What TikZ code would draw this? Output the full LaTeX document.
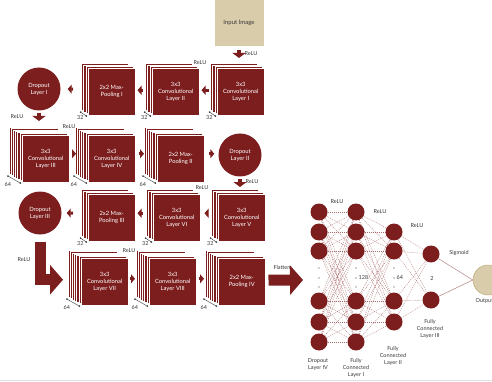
\documentclass[tikz,border=0pt]{standalone}
\usepackage{fontspec}
\setmainfont{Lato}
\usetikzlibrary{arrows.meta,backgrounds}
\definecolor{cnnred}{RGB}{125,30,30}
\definecolor{beigec}{RGB}{216,204,170}
\definecolor{beigeline}{RGB}{190,170,120}
\definecolor{labgray}{RGB}{55,55,55}
\newcommand\cnnstack[7]{%
  \foreach \i in {#4,...,1}{\filldraw[cnnlayer] ({#2-2.2*\i},{#3-#5*\i}) rectangle ++(47,47);}
  \node[frontsq, anchor=north west] (#1) at (#2,#3) {#6};
  \draw[dimln] ({#2-2.2*#4-1.5},{#3+47-#5*#4+1.5}) -- ({#2-1},{#3+48.5});
  \node[lbl, anchor=north] (#1-d) at ({#2-2.2*#4-1},{#3+47.8}) {#7};
}
\begin{document}
\begin{tikzpicture}[x=1pt,y=-1pt,
  cnnlayer/.style={fill=cnnred, draw=white, line width=.5pt},
  frontsq/.style={rectangle, fill=cnnred, draw=white, line width=.5pt, minimum width=47pt, minimum height=47pt, inner sep=0pt, align=center, text=white, font=\fontsize{5.8}{7}\selectfont},
  dropc/.style={circle, fill=cnnred, minimum size=43pt, inner sep=0pt, align=center, text=white, font=\fontsize{5.8}{7}\selectfont},
  lbl/.style={text=labgray, font=\fontsize{5.5}{7}\selectfont, inner sep=0pt, align=center},
  dimln/.style={black!80, line width=.4pt, {Circle[length=1.6pt]}-{Circle[length=1.6pt]}},
  sarr/.style={cnnred, line width=3pt, -{Triangle[length=4pt,width=9pt]}},
  darr/.style={cnnred, line width=4pt, -{Triangle[length=5pt,width=13pt]}},
  bigarr/.style={cnnred, line width=11pt, line join=miter, -{Triangle[length=13pt,width=29pt]}},
  neuron/.style={circle, fill=cnnred, minimum size=17pt, inner sep=0pt},
  conn/.style={cnnred!65, line width=.35pt, dash pattern=on 1pt off 1pt},
  outconn/.style={cnnred!60, line width=.45pt},
  ndot/.style={fill=labgray}
]
\useasboundingbox (0,0) rectangle (492,382);
\clip (0,0) rectangle (492,382);

% input
\node[fill=beigec, minimum width=49pt, minimum height=46pt, inner sep=0pt, text=labgray, font=\fontsize{6}{7}\selectfont] (input) at (239,23) {Input Image};

% row 1
\cnnstack{convI}{217}{68}{3}{1.6}{3x3\\Convolutional\\Layer I}{32}
\cnnstack{convII}{152}{68}{3}{1.6}{3x3\\Convolutional\\Layer II}{32}
\cnnstack{poolI}{88}{68}{3}{1.6}{2x2 Max-\\Pooling I}{32}
\node[dropc] (dropI) at (39,89) {Dropout\\Layer I};

% row 2
\cnnstack{convIII}{22}{135}{6}{1.3}{3x3\\Convolutional\\Layer III}{64}
\cnnstack{convIV}{88}{135}{6}{1.3}{3x3\\Convolutional\\Layer IV}{64}
\cnnstack{poolII}{157}{135}{6}{1.3}{2x2 Max-\\Pooling II}{64}
\node[dropc] (dropII) at (240,155) {Dropout\\Layer II};

% row 3
\cnnstack{convV}{218}{194}{3}{1.6}{3x3\\Convolutional\\Layer V}{32}
\cnnstack{convVI}{153}{194}{3}{1.6}{3x3\\Convolutional\\Layer VI}{32}
\cnnstack{poolIII}{88}{194}{3}{1.6}{2x2 Max-\\Pooling III}{32}
\node[dropc] (dropIII) at (40,213) {Dropout\\Layer III};

% row 4
\cnnstack{convVII}{81}{258}{6}{1.3}{3x3\\Convolutional\\Layer VII}{64}
\cnnstack{convVIII}{149}{258}{6}{1.3}{3x3\\Convolutional\\Layer VIII}{64}
\cnnstack{poolIV}{218}{258}{6}{1.3}{2x2 Max-\\Pooling IV}{64}

% arrows row 1
\draw[darr, shorten <=4pt, shorten >=10pt] (input.south) -- (input.south |- convI.north);
\draw[sarr, shorten <=8pt, shorten >=2pt] ([yshift=1.5pt]convI.west) -- ([yshift=1.5pt]convII.east);
\draw[sarr, shorten <=9pt, shorten >=2pt] ([yshift=1.5pt]convII.west) -- ([yshift=1.5pt]poolI.east);
\draw[sarr, shorten <=15pt, shorten >=7pt] ([yshift=2.5pt]poolI.west) -- (dropI.east);
\draw[darr, shorten <=2pt, shorten >=14pt] (dropI.south) -- (dropI.south |- convIII.north);
% row 2
\draw[sarr, shorten <=2pt, shorten >=12pt] ([yshift=5pt]convIII.east) -- ([yshift=5pt]convIV.west);
\draw[sarr, shorten <=3pt, shorten >=13pt] ([yshift=5pt]convIV.east) -- ([yshift=5pt]poolII.west);
\draw[sarr, shorten <=4pt, shorten >=4pt] ([yshift=5pt]poolII.east) -- ([yshift=5pt]poolII.east -| dropII.west);
\draw[darr, shorten <=2pt, shorten >=7pt] (dropII.south) -- (dropII.south |- convV.north);
% row 3
\draw[sarr, shorten <=11pt, shorten >=4pt] ([yshift=4.5pt]convV.west) -- ([yshift=4.5pt]convVI.east);
\draw[sarr, shorten <=10pt, shorten >=2pt] ([yshift=4.5pt]convVI.west) -- ([yshift=4.5pt]poolIII.east);
\draw[sarr, shorten <=15pt, shorten >=5pt] ([yshift=4.5pt]poolIII.west) -- (dropIII.east);
\draw[bigarr, shorten <=7pt, shorten >=18pt] (dropIII.south) |- ([yshift=2pt]convVII.west);
% row 4
\draw[sarr, shorten <=1pt, shorten >=14pt] ([yshift=3pt]convVII.east) -- ([yshift=3pt]convVIII.west);
\draw[sarr, shorten <=2pt, shorten >=14pt] ([yshift=3pt]convVIII.east) -- ([yshift=3pt]poolIV.west);
\coordinate (flatend) at (303,280);
\draw[bigarr, shorten <=3pt] ([yshift=1.5pt]poolIV.east) -- (flatend);

% CNN labels
\node[lbl] (r1) at (251,54) {ReLU};
\node[lbl] (r2) at (200,63) {ReLU};
\node[lbl] (r3) at (17,117) {ReLU};
\node[lbl] (r4) at (69,127) {ReLU};
\node[lbl] (r5) at (252,182) {ReLU};
\node[lbl] (r6) at (202,188) {ReLU};
\node[lbl] (r7) at (24,260) {ReLU};
\node[lbl] (r8) at (129,251) {ReLU};
\node[lbl] (flat) at (282,267) {Flatten};

% network nodes
\foreach \k/\y in {1/212,2/232,3/251,4/301,5/322,6/342}{
  \node[neuron] (n1\k) at (319,\y) {};
  \node[neuron] (n2\k) at (356,\y) {};
}
\foreach \k/\y in {1/232,2/251,3/301,4/322}{
  \node[neuron] (n3\k) at (394,\y) {};
}
\node[neuron] (n41) at (431,254) {};
\node[neuron] (n42) at (431,300) {};
\node[circle, fill=beigec, draw=beigeline, line width=.5pt, minimum size=30pt, inner sep=0pt] (out) at (488,280) {};

\begin{scope}[on background layer]
\foreach \a in {1,...,6}{\foreach \b in {1,...,6}{\draw[conn] (n1\a) -- (n2\b);}}
\foreach \a in {1,...,6}{\foreach \b in {1,...,4}{\draw[conn] (n2\a) -- (n3\b);}}
\foreach \a in {1,...,4}{\foreach \b in {1,2}{\draw[conn] (n3\a) -- (n4\b);}}
\draw[outconn] (n41) -- (out.west);
\draw[outconn] (n42) -- (out.west);
\draw[black!12, line width=1pt] (0,380.5) -- (492,380.5);
\end{scope}

% dots
\foreach \x in {319,356,394}{\foreach \y in {268,278,287}{\fill[ndot] (\x,\y) circle (.6);}}
\node[lbl, anchor=west] (l128) at (358.5,278) {128};
\node[lbl, anchor=west] (l64) at (396.5,278) {64};
\node[lbl] (l2) at (432,279) {2};

% network labels
\node[lbl] (rn1) at (337,202) {ReLU};
\node[lbl] (rn2) at (380,212) {ReLU};
\node[lbl] (rn3) at (417,226) {ReLU};
\node[lbl] (sig) at (459,253) {Sigmoid};
\node[lbl, anchor=west] (outl) at (475.5,301) {Output};
\node[lbl] (ld4) at (318,364) {Dropout\\Layer IV};
\node[lbl] (lf1) at (356,368) {Fully\\Connected\\Layer I};
\node[lbl] (lf2) at (393,356) {Fully\\Connected\\Layer II};
\node[lbl] (lf3) at (430,329) {Fully\\Connected\\Layer III};
\end{tikzpicture}
\end{document}
